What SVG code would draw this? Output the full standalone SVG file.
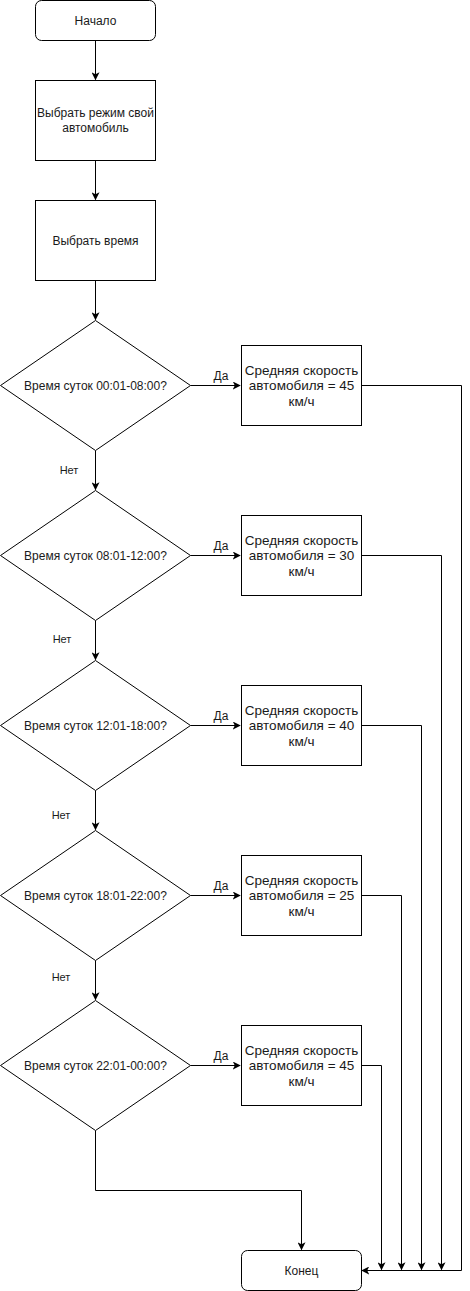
<svg xmlns="http://www.w3.org/2000/svg" width="470" height="1291" viewBox="0 0 470 1291">
<style>
.s{fill:#fff;stroke:#000;stroke-width:1}
.t{font-family:"Liberation Sans",Arial,sans-serif;font-size:12px;fill:#1a1a1a;text-anchor:middle;dominant-baseline:central}
.b{font-size:13.5px}
.l{font-family:"Liberation Sans",Arial,sans-serif;font-size:11px;fill:#1a1a1a;text-anchor:middle;dominant-baseline:central}
.y{font-size:12px}
.c{fill:none;stroke:#000;stroke-width:1}
</style>
<defs>
<marker id="a" viewBox="0 0 10 10" refX="9" refY="5" markerWidth="8" markerHeight="8" markerUnits="userSpaceOnUse" orient="auto">
<path d="M0,0 L10,5 L0,10 L2.5,5 Z" fill="#000"/>
</marker>
</defs>
<rect width="470" height="1291" fill="#fff"/>
<g id="connectors" class="c">
<path d="M95.5,40.5 V79.5" marker-end="url(#a)"/>
<path d="M95.5,160.5 V199.5" marker-end="url(#a)"/>
<path d="M95.5,280.5 V319.5" marker-end="url(#a)"/>
<path d="M95.5,450.5 V489.5" marker-end="url(#a)"/>
<path d="M95.5,620.5 V659.5" marker-end="url(#a)"/>
<path d="M95.5,790.5 V829.5" marker-end="url(#a)"/>
<path d="M95.5,960.5 V999.5" marker-end="url(#a)"/>
<path d="M95.5,1130.5 V1190.5 H301.5 V1249.5" marker-end="url(#a)"/>
<path d="M190.5,385.5 H240" marker-end="url(#a)"/>
<path d="M190.5,555.5 H240" marker-end="url(#a)"/>
<path d="M190.5,725.5 H240" marker-end="url(#a)"/>
<path d="M190.5,895.5 H240" marker-end="url(#a)"/>
<path d="M190.5,1065.5 H240" marker-end="url(#a)"/>
<path d="M361.5,385.5 H461.5 V1270.5 H362" marker-end="url(#a)"/>
<path d="M361.5,555.5 H441.5 V1269.5" marker-end="url(#a)"/>
<path d="M361.5,725.5 H421.5 V1269.5" marker-end="url(#a)"/>
<path d="M361.5,895.5 H401.5 V1269.5" marker-end="url(#a)"/>
<path d="M361.5,1065.5 H381.5 V1269.5" marker-end="url(#a)"/>
</g>
<g id="labels">
<text class="l y" x="221" y="376">Да</text>
<text class="l y" x="221" y="546">Да</text>
<text class="l y" x="221" y="716">Да</text>
<text class="l y" x="221" y="886">Да</text>
<text class="l y" x="221" y="1056">Да</text>
<text class="l" x="69" y="470">Нет</text>
<text class="l" x="62" y="639">Нет</text>
<text class="l" x="61" y="815">Нет</text>
<text class="l" x="61" y="977">Нет</text>
</g>
<g id="start"><rect class="s" x="35.5" y="0.5" width="120" height="40" rx="6"/><text class="t" x="95.5" y="20.5">Начало</text></g>
<g id="mode"><rect class="s" x="35.5" y="80.5" width="120" height="80"/><text class="t" x="95.5" y="113">Выбрать режим свой</text><text class="t" x="95.5" y="128">автомобиль</text></g>
<g id="time"><rect class="s" x="35.5" y="200.5" width="120" height="80"/><text class="t" x="95.5" y="240.5">Выбрать время</text></g>
<g id="d1"><path class="s" d="M95.5,320.5 L190.5,385.5 L95.5,450.5 L0.5,385.5 Z"/><text class="t" x="95.5" y="385.5">Время суток 00:01-08:00?</text></g>
<g id="d2"><path class="s" d="M95.5,490.5 L190.5,555.5 L95.5,620.5 L0.5,555.5 Z"/><text class="t" x="95.5" y="555.5">Время суток 08:01-12:00?</text></g>
<g id="d3"><path class="s" d="M95.5,660.5 L190.5,725.5 L95.5,790.5 L0.5,725.5 Z"/><text class="t" x="95.5" y="725.5">Время суток 12:01-18:00?</text></g>
<g id="d4"><path class="s" d="M95.5,830.5 L190.5,895.5 L95.5,960.5 L0.5,895.5 Z"/><text class="t" x="95.5" y="895.5">Время суток 18:01-22:00?</text></g>
<g id="d5"><path class="s" d="M95.5,1000.5 L190.5,1065.5 L95.5,1130.5 L0.5,1065.5 Z"/><text class="t" x="95.5" y="1065.5">Время суток 22:01-00:00?</text></g>
<g id="v1"><rect class="s" x="241.5" y="345.5" width="120" height="80"/><text class="t b" x="301.5" y="370">Средняя скорость</text><text class="t b" x="301.5" y="385.5">автомобиля = 45</text><text class="t b" x="301.5" y="401">км/ч</text></g>
<g id="v2"><rect class="s" x="241.5" y="515.5" width="120" height="80"/><text class="t b" x="301.5" y="540">Средняя скорость</text><text class="t b" x="301.5" y="555.5">автомобиля = 30</text><text class="t b" x="301.5" y="571">км/ч</text></g>
<g id="v3"><rect class="s" x="241.5" y="685.5" width="120" height="80"/><text class="t b" x="301.5" y="710">Средняя скорость</text><text class="t b" x="301.5" y="725.5">автомобиля = 40</text><text class="t b" x="301.5" y="741">км/ч</text></g>
<g id="v4"><rect class="s" x="241.5" y="855.5" width="120" height="80"/><text class="t b" x="301.5" y="880">Средняя скорость</text><text class="t b" x="301.5" y="895.5">автомобиля = 25</text><text class="t b" x="301.5" y="911">км/ч</text></g>
<g id="v5"><rect class="s" x="241.5" y="1025.5" width="120" height="80"/><text class="t b" x="301.5" y="1050">Средняя скорость</text><text class="t b" x="301.5" y="1065.5">автомобиля = 45</text><text class="t b" x="301.5" y="1081">км/ч</text></g>
<g id="end"><rect class="s" x="241.5" y="1250.5" width="120" height="40" rx="6"/><text class="t" x="301.5" y="1270.5">Конец</text></g>
</svg>
